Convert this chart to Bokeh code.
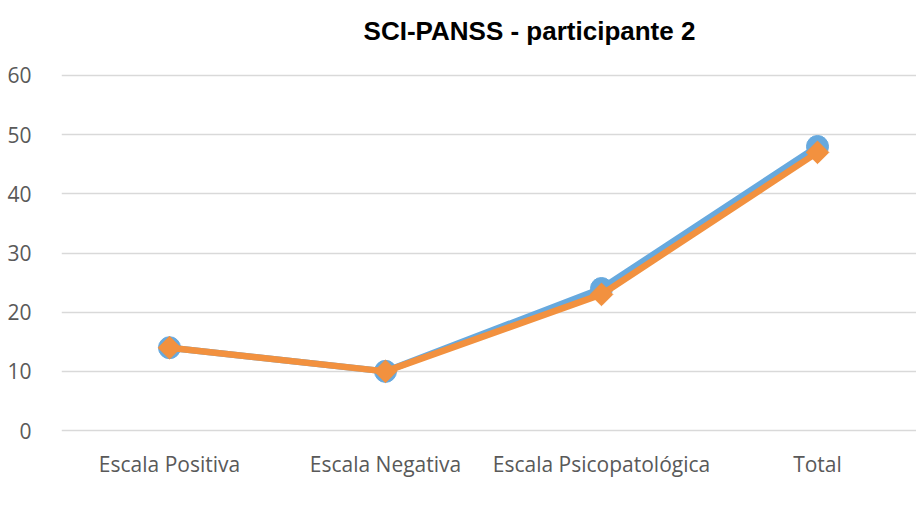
import math
from bokeh.plotting import figure
from bokeh.layouts import column
from bokeh.models import Range1d, FixedTicker, Legend, LegendItem, ColumnDataSource, Label
from bokeh.embed import file_html
from bokeh.resources import INLINE

title_text = "SCI-PANSS - participante 2"
categories = ["Escala Positiva", "Escala Negativa", "Escala Psicopatológica", "Total"]
series_names = ["Pré", "Pós"]
pre_values = [14, 10, 24, 48]
pos_values = [14, 10, 23, 47]
y_ticks = [0, 10, 20, 30, 40, 50, 60]

x_pos = [i + 0.5 for i in range(len(categories))]
W = 916
blue = "#67A9DE"
orange = "#F2913F"
tick_font = "Open Sans"


def blank(fig):
    fig.outline_line_color = None
    fig.background_fill_color = "white"
    fig.border_fill_color = "white"
    fig.xgrid.grid_line_color = None
    fig.ygrid.grid_line_color = None


# ---- title strip
p0 = figure(frame_width=W, frame_height=60, output_backend="svg", toolbar_location=None,
            x_range=Range1d(0, W), y_range=Range1d(0, 60), title_location=None,
            x_axis_location=None, y_axis_location=None, min_border=0)
blank(p0)
p0.add_layout(Label(x=468, y=30, text=title_text, text_font="Liberation Sans",
                    text_font_size="26px", text_font_style="bold", text_color="#000000",
                    text_align="center", text_baseline="middle"))

# ---- main chart
p = figure(frame_width=855, frame_height=361, output_backend="svg", toolbar_location=None,
           x_range=Range1d(0, 855 / 216), y_range=Range1d(-0.5, 60.5), title_location=None,
           min_border_left=61, min_border_right=0, min_border_top=12, min_border_bottom=60)
blank(p)

for ax in (p.xaxis[0], p.yaxis[0]):
    ax.axis_line_color = None
    ax.major_tick_line_color = None
    ax.minor_tick_line_color = None
    ax.major_label_text_font = tick_font
    ax.major_label_text_font_size = "21px"
    ax.major_label_text_color = "#595959"

p.xaxis.ticker = FixedTicker(ticks=x_pos)
p.xaxis.major_label_overrides = {x: c for x, c in zip(x_pos, categories)}
p.xaxis.major_label_standoff = 10
p.yaxis.ticker = FixedTicker(ticks=y_ticks)
p.yaxis.major_label_standoff = 24

p.ygrid.grid_line_color = "#d9d9d9"
p.ygrid.grid_line_width = 1.5
p.ygrid.ticker = FixedTicker(ticks=y_ticks)

src = ColumnDataSource(dict(x=x_pos, pre=pre_values, pos=pos_values))
p.line("x", "pre", source=src, line_color=blue, line_width=6.5)
p.scatter("x", "pre", source=src, marker="circle", size=22, fill_color=blue, line_color=blue)
p.line("x", "pos", source=src, line_color=orange, line_width=6.5)
p.scatter("x", "pos", source=src, marker="square", size=16, angle=math.pi / 4,
          fill_color=orange, line_color=orange)

# ---- legend strip
p2 = figure(frame_width=W, frame_height=32, output_backend="svg", toolbar_location=None,
            x_range=Range1d(0, 1), y_range=Range1d(0, 1), title_location=None,
            x_axis_location=None, y_axis_location=None, min_border=0)
blank(p2)
empty = ColumnDataSource(dict(x=[], y=[]))
k1 = p2.line("x", "y", source=empty, line_color=blue, line_width=6.5)
n1 = p2.scatter("x", "y", source=empty, marker="circle", size=16, fill_color=blue, line_color=blue)
k2 = p2.line("x", "y", source=empty, line_color=orange, line_width=6.5)
n2 = p2.scatter("x", "y", source=empty, marker="square", size=11, angle=math.pi / 4,
                fill_color=orange, line_color=orange)

legend = Legend(items=[LegendItem(label=series_names[0], renderers=[k1, n1]),
                       LegendItem(label=series_names[1], renderers=[k2, n2])],
                orientation="horizontal", location=(372, 1))
legend.border_line_color = None
legend.background_fill_alpha = 0
legend.label_text_font = tick_font
legend.label_text_font_size = "21px"
legend.label_text_color = "#595959"
legend.glyph_width = 54
legend.glyph_height = 20
legend.label_standoff = 4
legend.spacing = 20
legend.padding = 0
legend.margin = 0
p2.add_layout(legend, "center")

layout = column(p0, p, p2)
open("out.html", "w").write(file_html(layout, INLINE))
